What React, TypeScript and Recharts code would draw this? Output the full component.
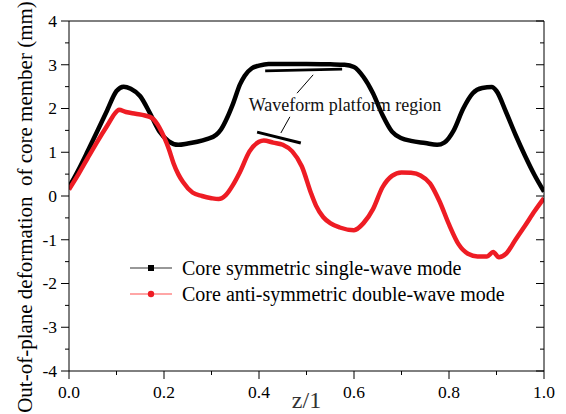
import React from 'react';
import { LineChart, Line, XAxis, YAxis, ReferenceLine, ReferenceDot, Legend } from 'recharts';

const FONT = '"Liberation Serif", "Times New Roman", Times, serif';

// Core symmetric single-wave mode
const symZ = [0, 0.02, 0.04, 0.06, 0.08, 0.1, 0.115, 0.13, 0.15, 0.17, 0.19, 0.21, 0.23, 0.25, 0.27, 0.29, 0.31, 0.32, 0.33, 0.345, 0.36, 0.37, 0.385, 0.4, 0.42, 0.45, 0.5, 0.55, 0.58, 0.6, 0.62, 0.64, 0.66, 0.68, 0.7, 0.72, 0.75, 0.775, 0.79, 0.81, 0.83, 0.85, 0.87, 0.89, 0.9, 0.92, 0.94, 0.96, 0.98, 1.0];
const symDef = [0.2, 0.6, 1.04, 1.49, 1.95, 2.4, 2.5, 2.45, 2.28, 1.9, 1.48, 1.25, 1.17, 1.2, 1.24, 1.3, 1.4, 1.52, 1.72, 2.1, 2.55, 2.75, 2.92, 2.98, 3.02, 3.02, 3.02, 3.01, 3.0, 2.95, 2.72, 2.35, 1.85, 1.47, 1.32, 1.26, 1.21, 1.17, 1.22, 1.5, 2.0, 2.35, 2.47, 2.49, 2.4, 1.92, 1.4, 0.92, 0.48, 0.1];

// Core anti-symmetric double-wave mode
const antiZ = [0, 0.02, 0.04, 0.06, 0.08, 0.1, 0.105, 0.12, 0.14, 0.16, 0.175, 0.19, 0.2, 0.21, 0.22, 0.23, 0.24, 0.26, 0.28, 0.3, 0.315, 0.33, 0.345, 0.36, 0.38, 0.4, 0.41, 0.43, 0.45, 0.47, 0.49, 0.51, 0.52, 0.535, 0.55, 0.57, 0.6, 0.62, 0.64, 0.66, 0.68, 0.7, 0.72, 0.74, 0.76, 0.78, 0.8, 0.82, 0.84, 0.86, 0.88, 0.893, 0.905, 0.92, 0.94, 0.96, 0.98, 1.0];
const antiDef = [0.15, 0.5, 0.88, 1.25, 1.6, 1.93, 1.97, 1.92, 1.88, 1.84, 1.78, 1.57, 1.35, 1.08, 0.75, 0.5, 0.32, 0.08, 0.0, -0.05, -0.07, 0.02, 0.25, 0.55, 1.02, 1.24, 1.27, 1.22, 1.17, 1.02, 0.68, 0.05, -0.22, -0.48, -0.62, -0.72, -0.78, -0.62, -0.3, 0.2, 0.46, 0.54, 0.53, 0.47, 0.29, -0.12, -0.65, -1.1, -1.32, -1.38, -1.38, -1.28, -1.4, -1.32, -1.0, -0.68, -0.35, -0.05];

const xTicks = [0, 0.1, 0.2, 0.3, 0.4, 0.5, 0.6, 0.7, 0.8, 0.9, 1.0];
const yTicks = [-4, -3.5, -3, -2.5, -2, -1.5, -1, -0.5, 0, 0.5, 1, 1.5, 2, 2.5, 3, 3.5, 4];

const seriesNames = ['Core symmetric single-wave mode', 'Core anti-symmetric double-wave mode'];
const xLabel = 'z/1';
const yLabel = 'Out-of-plane deformation  of core member (mm)';
const annotationText = 'Waveform platform region';
const annotationPos = { x: 0.581, y: 2.08 };
// annotation marks: [x1, y1, x2, y2]
const annotationBars = [
  [0.413, 2.86, 0.575, 2.9],
  [0.396, 1.46, 0.488, 1.21],
];
const annotationLeaders = [
  [0.514, 2.77, 0.48, 2.35],
  [0.465, 1.81, 0.446, 1.44],
];

const RED = '#ee1c24';

const symData = symZ.map((z, i) => ({ z, v: symDef[i] }));
const antiData = antiZ.map((z, i) => ({ z, v: antiDef[i] }));

const isMajorX = (v: number) => Math.round(v * 10) % 2 === 0;
const isMajorY = (v: number) => Number.isInteger(v);

const BottomTick = (props: any) => {
  const { x, y, payload } = props;
  const v = payload.value as number;
  const major = isMajorX(v);
  return (
    <g>
      <line x1={x} x2={x} y1={y} y2={y + (major ? 8 : 4)} stroke="#000" strokeWidth={1} />
      {major && (
        <text x={x} y={y + 27} textAnchor="middle" fontSize={17.5} fontFamily={FONT} fill="#000">
          {v.toFixed(1)}
        </text>
      )}
    </g>
  );
};

const TopTick = (props: any) => {
  const { x, y, payload } = props;
  const major = isMajorX(payload.value);
  return <line x1={x} x2={x} y1={y} y2={y + (major ? 8 : 4)} stroke="#000" strokeWidth={1} />;
};

const LeftTick = (props: any) => {
  const { x, y, payload } = props;
  const v = payload.value as number;
  const major = isMajorY(v);
  return (
    <g>
      <line x1={x} x2={x - (major ? 8 : 4)} y1={y} y2={y} stroke="#000" strokeWidth={1} />
      {major && (
        <text x={x - 12} y={y} dy="0.34em" textAnchor="end" fontSize={17.5} fontFamily={FONT} fill="#000">
          {String(v)}
        </text>
      )}
    </g>
  );
};

const RightTick = (props: any) => {
  const { x, y, payload } = props;
  const major = isMajorY(payload.value);
  return <line x1={x} x2={x - (major ? 8 : 4)} y1={y} y2={y} stroke="#000" strokeWidth={1} />;
};

const XLabel = (props: any) => {
  const vb = props.viewBox || { x: 69, y: 371, width: 475, height: 43 };
  return (
    <text x={vb.x + vb.width / 2} y={vb.y + vb.height - 6} textAnchor="middle" fontSize={24} fontFamily={FONT} fill="#333">
      {xLabel}
    </text>
  );
};

const YLabel = () => (
  <text
    x={32}
    y={207}
    transform="rotate(-90 32 207)"
    textAnchor="middle"
    fontSize={21}
    fontFamily={FONT}
    fill="#000"
    style={{ whiteSpace: 'pre' }}
  >
    {yLabel}
  </text>
);

const LegendContent = () => (
  <div style={{ fontFamily: FONT, fontSize: 20, color: '#000', lineHeight: '26px' }}>
    <div style={{ display: 'flex', alignItems: 'center', height: 26 }}>
      <svg width={54} height={26}>
        <line x1={2} x2={44} y1={13} y2={13} stroke="#333" strokeWidth={1.2} />
        <rect x={20} y={10} width={6} height={6} fill="#000" />
      </svg>
      <span style={{ whiteSpace: 'nowrap' }}>{seriesNames[0]}</span>
    </div>
    <div style={{ display: 'flex', alignItems: 'center', height: 26 }}>
      <svg width={54} height={26}>
        <line x1={2} x2={44} y1={13} y2={13} stroke="#f88" strokeWidth={1.5} />
        <circle cx={23} cy={13} r={3.2} fill={RED} />
      </svg>
      <span style={{ whiteSpace: 'nowrap' }}>{seriesNames[1]}</span>
    </div>
  </div>
);

export default function App() {
  return (
    <div style={{ position: 'absolute', left: 0, top: 0, width: 566, height: 414, background: '#fff' }}>
      <LineChart width={566} height={414} margin={{ top: 0, right: 0, bottom: 0, left: 0 }}>
        <XAxis
          xAxisId={0}
          dataKey="z"
          type="number"
          domain={[0, 1]}
          ticks={xTicks}
          interval={0}
          height={43}
          tickSize={0}
          tickMargin={0}
          tickLine={false}
          tick={<BottomTick />}
          axisLine={{ stroke: '#000', strokeWidth: 1 }}
          allowDataOverflow
          label={<XLabel />}
        />
        <XAxis
          xAxisId="top"
          orientation="top"
          type="number"
          domain={[0, 1]}
          ticks={xTicks}
          interval={0}
          height={21}
          tickSize={0}
          tickMargin={0}
          tickLine={false}
          tick={<TopTick />}
          axisLine={{ stroke: '#000', strokeWidth: 1 }}
          allowDataOverflow
        />
        <YAxis
          yAxisId={0}
          type="number"
          domain={[-4, 4]}
          ticks={yTicks}
          interval={0}
          width={69}
          tickSize={0}
          tickMargin={0}
          tickLine={false}
          tick={<LeftTick />}
          axisLine={{ stroke: '#000', strokeWidth: 1 }}
          allowDataOverflow
          label={<YLabel />}
        />
        <YAxis
          yAxisId="right"
          orientation="right"
          type="number"
          domain={[-4, 4]}
          ticks={yTicks}
          interval={0}
          width={22}
          tickSize={0}
          tickMargin={0}
          tickLine={false}
          tick={<RightTick />}
          axisLine={{ stroke: '#000', strokeWidth: 1 }}
          allowDataOverflow
        />
        <Legend
          layout="vertical"
          align="center"
          verticalAlign="middle"
          content={<LegendContent />}
          wrapperStyle={{ position: 'absolute', left: 128, top: 255, width: 420, height: 52 }}
        />
        <Line
          data={symData}
          dataKey="v"
          type="monotone"
          stroke="#000"
          strokeWidth={4.5}
          dot={false}
          activeDot={false}
          isAnimationActive={false}
          name={seriesNames[0]}
        />
        <Line
          data={antiData}
          dataKey="v"
          type="monotone"
          stroke={RED}
          strokeWidth={4.5}
          dot={false}
          activeDot={false}
          isAnimationActive={false}
          name={seriesNames[1]}
        />
        {annotationBars.map((s, i) => (
          <ReferenceLine
            key={'b' + i}
            segment={[{ x: s[0], y: s[1] }, { x: s[2], y: s[3] }]}
            stroke="#000"
            strokeWidth={3}
          />
        ))}
        {annotationLeaders.map((s, i) => (
          <ReferenceLine
            key={'l' + i}
            segment={[{ x: s[0], y: s[1] }, { x: s[2], y: s[3] }]}
            stroke="#000"
            strokeWidth={1}
          />
        ))}
        <ReferenceDot
          x={annotationPos.x}
          y={annotationPos.y}
          r={0}
          fill="none"
          stroke="none"
          label={{ value: annotationText, position: 'center', fontSize: 18, fontFamily: FONT, fill: '#111' }}
        />
      </LineChart>
    </div>
  );
}
